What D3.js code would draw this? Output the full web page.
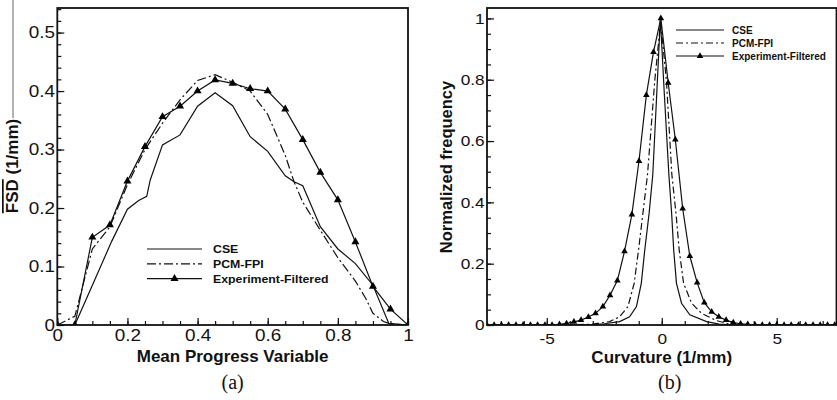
<!DOCTYPE html>
<html>
<head>
<meta charset="utf-8">
<script src="https://cdn.jsdelivr.net/npm/d3@7"></script>
<style>
  body { margin: 0; background: #fff; }
  svg { display: block; font-family: "Liberation Sans", Arial, sans-serif; }
</style>
</head>
<body>
<div id="mainCanvas"></div>
<script>
// ---- panel (a): FSD vs mean progress variable ----
var aCseC   = [0, 0.05, 0.1, 0.155, 0.2, 0.232, 0.255, 0.265, 0.3, 0.35, 0.4, 0.45, 0.5, 0.55, 0.6, 0.65, 0.675, 0.7, 0.75, 0.8, 0.85, 0.9, 0.945, 1];
var aCseFsd = [0, 0, 0.068, 0.143, 0.198, 0.213, 0.22, 0.248, 0.308, 0.325, 0.374, 0.397, 0.375, 0.322, 0.297, 0.255, 0.245, 0.238, 0.168, 0.13, 0.105, 0.068, 0.003, 0];
var aPcmC   = [0, 0.05, 0.1, 0.15, 0.2, 0.25, 0.3, 0.35, 0.4, 0.45, 0.5, 0.55, 0.6, 0.65, 0.675, 0.7, 0.75, 0.8, 0.85, 0.88, 0.9, 0.93, 0.95, 1];
var aPcmFsd = [0, 0.015, 0.13, 0.168, 0.24, 0.30, 0.345, 0.385, 0.418, 0.428, 0.415, 0.40, 0.36, 0.29, 0.245, 0.21, 0.162, 0.115, 0.075, 0.045, 0.02, 0.006, 0.002, 0];
var aExpC   = [0, 0.05, 0.1, 0.15, 0.2, 0.25, 0.3, 0.35, 0.4, 0.45, 0.5, 0.55, 0.6, 0.65, 0.7, 0.75, 0.8, 0.85, 0.9, 0.95, 1];
var aExpFsd = [0, 0, 0.15, 0.171, 0.246, 0.305, 0.356, 0.374, 0.40, 0.419, 0.413, 0.404, 0.40, 0.369, 0.317, 0.261, 0.214, 0.142, 0.066, 0.027, 0];

var aXTicks  = [0, 0.2, 0.4, 0.6, 0.8, 1];
var aXLabels = ["0", "0.2", "0.4", "0.6", "0.8", "1"];
var aYTicks  = [0, 0.1, 0.2, 0.3, 0.4, 0.5];
var aYLabels = ["0", "0.1", "0.2", "0.3", "0.4", "0.5"];

// ---- panel (b): normalized frequency vs curvature ----
var bCseK = [-7.6, -4, -3, -2.5, -1.83, -1.4, -1.1, -0.89, -0.74, -0.55, -0.39, -0.22, -0.06, 0.1, 0.31, 0.43, 0.52, 0.64, 0.86, 1.22, 1.95, 2.5, 3.2, 7.6];
var bCseF = [0, 0, 0.001, 0.004, 0.011, 0.027, 0.06, 0.136, 0.244, 0.364, 0.49, 0.75, 1.0, 0.77, 0.49, 0.364, 0.244, 0.136, 0.071, 0.033, 0.011, 0.003, 0, 0];
var bPcmK = [-7.6, -4, -3, -2.27, -1.83, -1.47, -1.2, -1.01, -0.82, -0.62, -0.3, -0.05, 0.2, 0.44, 0.62, 0.76, 0.95, 1.3, 1.73, 2.39, 2.9, 3.5, 7.6];
var bPcmF = [0, 0, 0.003, 0.011, 0.027, 0.06, 0.136, 0.244, 0.364, 0.49, 0.8, 0.99, 0.8, 0.49, 0.364, 0.244, 0.136, 0.071, 0.038, 0.014, 0.004, 0, 0];
var bExpK = [-7.60, -7.29, -6.97, -6.66, -6.34, -6.03, -5.71, -5.40, -5.08, -4.77, -4.45, -4.14, -3.82, -3.51, -3.19, -2.88, -2.56, -2.25, -1.93, -1.62, -1.30, -0.99, -0.67, -0.36, -0.04,
             0.28, 0.59, 0.91, 1.22, 1.54, 1.85, 2.17, 2.48, 2.80, 3.11, 3.43, 3.74, 4.06, 4.37, 4.69, 5.00, 5.32, 5.63, 5.95, 6.26, 6.58, 6.89, 7.21, 7.52];
var bExpF = [0, 0, 0, 0, 0, 0, 0, 0, 0, 0, 0.002, 0.005, 0.01, 0.016, 0.026, 0.038, 0.06, 0.097, 0.145, 0.24, 0.36, 0.535, 0.75, 0.89, 1.0,
             0.79, 0.605, 0.38, 0.225, 0.138, 0.073, 0.043, 0.027, 0.016, 0.008, 0.004, 0.002, 0, 0, 0, 0, 0, 0, 0, 0, 0, 0, 0, 0];

var bXTicks  = [-5, 0, 5];
var bXLabels = ["-5", "0", "5"];
var bYTicks  = [0, 0.2, 0.4, 0.6, 0.8, 1];
var bYLabels = ["0", "0.2", "0.4", "0.6", "0.8", "1"];

var legendNames = ["CSE", "PCM-FPI", "Experiment-Filtered"];

var svg = d3.select("#mainCanvas")
        .append("svg")
            .attr("width", 837)
            .attr("height", 400);

function drawPanel(p) {
    var x = d3.scaleLinear().domain(p.xDomain).range([p.left, p.right]);
    var y = d3.scaleLinear().domain(p.yDomain).range([p.bottom, p.top]);
    var g = svg.append("g").attr("id", p.id);

    // minor ticks
    g.append("g")
        .attr("transform", "translate(0," + p.bottom + ")")
        .call(d3.axisBottom(x).tickValues(p.xMinor).tickFormat("").tickSize(-4))
        .call(function(s){ s.select(".domain").remove(); });
    g.append("g")
        .attr("transform", "translate(" + p.left + ",0)")
        .call(d3.axisLeft(y).tickValues(p.yMinor).tickFormat("").tickSize(-4))
        .call(function(s){ s.select(".domain").remove(); });

    // major ticks + labels
    var xa = g.append("g")
        .attr("transform", "translate(0," + p.bottom + ")")
        .call(d3.axisBottom(x).tickValues(p.xTicks)
              .tickFormat(function(d, i){ return p.xLabels[i]; })
              .tickSize(-7).tickPadding(p.xPad));
    var ya = g.append("g")
        .attr("transform", "translate(" + p.left + ",0)")
        .call(d3.axisLeft(y).tickValues(p.yTicks)
              .tickFormat(function(d, i){ return p.yLabels[i]; })
              .tickSize(-7).tickPadding(2));
    [xa, ya].forEach(function(a){
        a.select(".domain").remove();
        a.selectAll("text")
            .style("font-size", p.tickFont + "px")
            .style("font-family", "'Liberation Sans', Arial, sans-serif")
            .attr("fill", "#111")
            .attr("transform", "scale(" + p.tickStretch + ",1)");
    });
    g.selectAll(".tick line").attr("stroke", "#111").attr("stroke-width", 1.2);

    // clip for data
    svg.append("clipPath").attr("id", p.id + "-clip")
        .append("rect")
            .attr("x", p.left).attr("y", p.top)
            .attr("width", p.right - p.left).attr("height", p.bottom - p.top);
    var plot = g.append("g").attr("clip-path", "url(#" + p.id + "-clip)");

    var line = d3.line().x(function(d){ return x(d[0]); }).y(function(d){ return y(d[1]); });

    plot.append("path").datum(d3.zip(p.cseX, p.cseY))
        .attr("d", line).attr("fill", "none").attr("stroke", "#111").attr("stroke-width", 1.2);
    plot.append("path").datum(d3.zip(p.pcmX, p.pcmY))
        .attr("d", line).attr("fill", "none").attr("stroke", "#111").attr("stroke-width", 1.2)
        .attr("stroke-dasharray", p.dash);
    plot.append("path").datum(d3.zip(p.expX, p.expY))
        .attr("d", line).attr("fill", "none").attr("stroke", "#111").attr("stroke-width", 1.2);

    var tri = d3.symbol().type(d3.symbolTriangle).size(p.markSize);
    plot.selectAll(".mark").data(d3.zip(p.expX, p.expY)).enter()
        .append("path")
            .attr("class", "mark")
            .attr("d", tri)
            .attr("transform", function(d){ return "translate(" + x(d[0]) + "," + y(d[1]) + ")"; })
            .attr("fill", "#000");

    // frame
    g.append("rect")
        .attr("x", p.left).attr("y", p.top)
        .attr("width", p.right - p.left).attr("height", p.bottom - p.top)
        .attr("fill", "none").attr("stroke", "#111").attr("stroke-width", 1.8);

    // legend
    var lg = g.append("g").attr("transform", "translate(" + p.legX + "," + p.legY + ")");
    legendNames.forEach(function(name, i){
        var ry = i * p.legStep;
        var ln = lg.append("line")
            .attr("x1", 0).attr("x2", p.legLen).attr("y1", ry).attr("y2", ry)
            .attr("stroke", "#111").attr("stroke-width", 1.2);
        if (i == 1) ln.attr("stroke-dasharray", p.dash);
        if (i == 2) {
            lg.append("path").attr("d", tri)
                .attr("transform", "translate(" + (p.legLen / 2) + "," + ry + ")")
                .attr("fill", "#000");
        }
        lg.append("text")
            .attr("transform", "translate(" + (p.legLen + p.legGap) + "," + ry + ") scale(" + p.legStretch + ",1)")
            .attr("dy", "0.36em")
            .style("font-size", p.legFont + "px")
            .style("font-weight", "bold")
            .attr("fill", "#111")
            .text(name);
    });

    // axis titles
    g.append("text")
        .attr("x", (p.left + p.right) / 2).attr("y", p.xTitleY)
        .attr("text-anchor", "middle")
        .style("font-size", "17px").style("font-weight", "bold").attr("fill", "#111")
        .text(p.xTitle);

    g.append("text")
        .attr("x", (p.left + p.right) / 2 + p.capShift).attr("y", 389)
        .attr("text-anchor", "middle")
        .style("font-family", "'Liberation Serif', 'Times New Roman', serif")
        .style("font-size", "20px").attr("fill", "#111")
        .text(p.caption);
    return g;
}

var ga = drawPanel({
    id: "pa", left: 57.3, right: 408, top: 8, bottom: 325,
    xDomain: [0, 1], yDomain: [0, 0.542],
    xTicks: aXTicks, xLabels: aXLabels, yTicks: aYTicks, yLabels: aYLabels,
    xMinor: d3.range(0, 1.001, 0.05), yMinor: d3.range(0, 0.541, 0.02),
    xPad: 5, tickFont: 16, tickStretch: 1.18,
    cseX: aCseC, cseY: aCseFsd, pcmX: aPcmC, pcmY: aPcmFsd, expX: aExpC, expY: aExpFsd,
    dash: "9,3,2,3", markSize: 28,
    legX: 147, legY: 249, legStep: 14.8, legLen: 55, legGap: 11, legFont: 11, legStretch: 1.12,
    xTitle: "Mean Progress Variable", xTitleY: 362, caption: "(a)", capShift: 0
});

var gb = drawPanel({
    id: "pb", left: 487, right: 836.5, top: 8, bottom: 325,
    xDomain: [-7.6, 7.6], yDomain: [0, 1.034],
    xTicks: bXTicks, xLabels: bXLabels, yTicks: bYTicks, yLabels: bYLabels,
    xMinor: d3.range(-7, 7.01, 1), yMinor: d3.range(0, 1.01, 0.05),
    xPad: 8, tickFont: 15, tickStretch: 1.15,
    cseX: bCseK, cseY: bCseF, pcmX: bPcmK, pcmY: bPcmF, expX: bExpK, expY: bExpF,
    dash: "7,3,2,3", markSize: 19,
    legX: 676, legY: 30, legStep: 13, legLen: 48, legGap: 8, legFont: 10, legStretch: 1,
    xTitle: "Curvature (1/mm)", xTitleY: 363, caption: "(b)", capShift: 8
});

// y titles
var ta = ga.append("text")
    .attr("transform", "translate(18,166) rotate(-90)")
    .attr("text-anchor", "middle")
    .style("font-size", "17px").style("font-weight", "bold").attr("fill", "#111");
ta.append("tspan").style("text-decoration", "overline").text("FSD");
ta.append("tspan").text(" (1/mm)");
// faint scan line above the title
ga.append("line")
    .attr("x1", 13).attr("x2", 13).attr("y1", 0).attr("y2", 118)
    .attr("stroke", "#999").attr("stroke-width", 1.5);

gb.append("text")
    .attr("transform", "translate(452,167) rotate(-90)")
    .attr("text-anchor", "middle")
    .style("font-size", "16.5px").style("font-weight", "bold").attr("fill", "#111")
    .text("Normalized frequency");
</script>
</body>
</html>
